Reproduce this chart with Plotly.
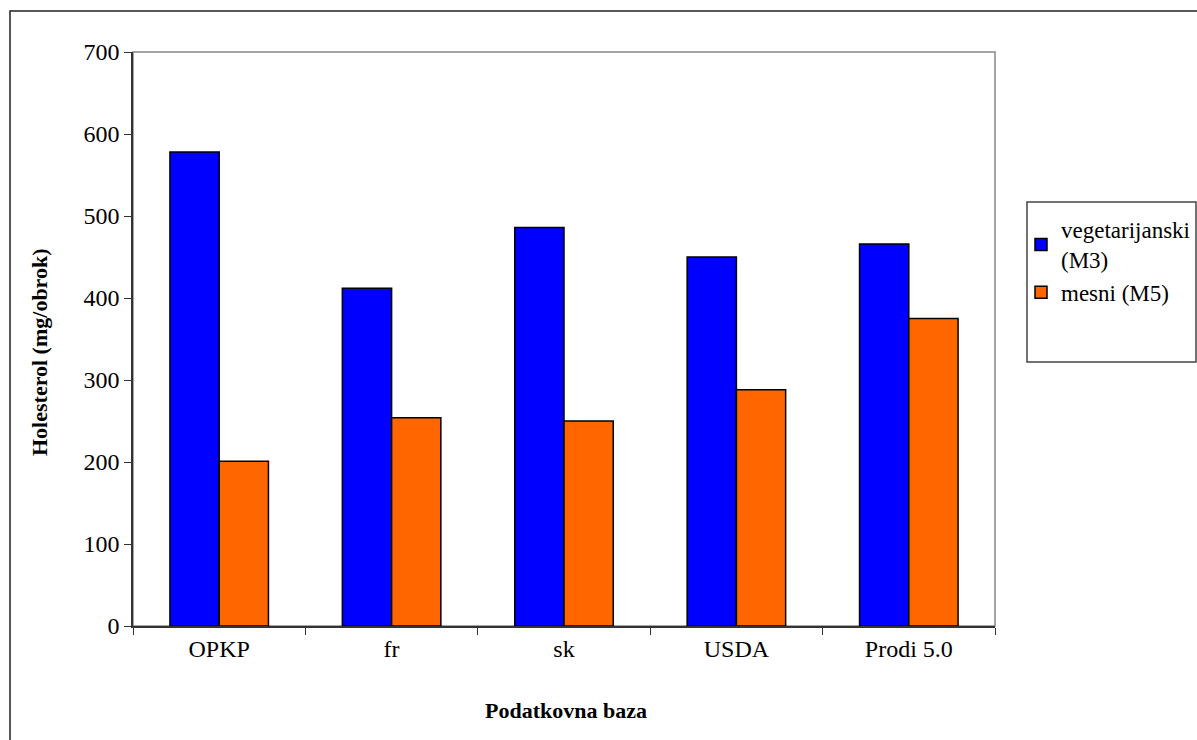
import plotly.graph_objects as go

categories = ["OPKP", "fr", "sk", "USDA", "Prodi 5.0"]
veg_m3 = [578, 412, 486, 450, 466]
mesni_m5 = [201, 254, 250, 288, 375]
series_names = ["vegetarijanski<br>(M3)", "mesni (M5)"]
y_ticks = [0, 100, 200, 300, 400, 500, 600, 700]

FONT = "Liberation Serif, Times New Roman, serif"

W, H = 1197, 740
# plot-area edges in page pixels
L, R, T, B = 133, 995, 52, 626

def px_x(x):
    return (x - L) / (R - L)

def px_y(y):
    return (B - y) / (B - T)

fig = go.Figure()
fig.add_trace(go.Bar(x=categories, y=veg_m3, name=series_names[0],
                     marker=dict(color="#0000FF", line=dict(color="black", width=1.5))))
fig.add_trace(go.Bar(x=categories, y=mesni_m5, name=series_names[1],
                     marker=dict(color="#FF6600", line=dict(color="black", width=1.5))))

fig.update_layout(
    width=W, height=H,
    margin=dict(l=L, r=W - R, t=T, b=H - B, pad=0, autoexpand=False),
    paper_bgcolor="white", plot_bgcolor="white",
    barmode="group", bargap=1.5 / 3.5, bargroupgap=0,
    font=dict(family=FONT, size=24, color="black"),
    showlegend=True,
    legend=dict(x=px_x(1021), y=px_y(208), xanchor="left", yanchor="top",
                bgcolor="rgba(0,0,0,0)", borderwidth=0,
                font=dict(family=FONT, size=23), tracegroupgap=24,
                itemwidth=30),
    xaxis=dict(showgrid=False, showline=True, linecolor="#333333", linewidth=1.5,
               ticks="outside", ticklen=7, tickcolor="#333333", tickson="boundaries",
               tickfont=dict(size=24)),
    yaxis=dict(range=[0, 700], tickvals=y_ticks, showgrid=False, showline=True,
               linecolor="#333333", linewidth=1.5, ticks="outside", ticklen=7,
               tickcolor="#333333", tickfont=dict(size=24), zeroline=False),
    annotations=[
        dict(text="<b>Podatkovna baza</b>", xref="paper", yref="paper",
             x=px_x(566), y=px_y(710), xanchor="center", yanchor="middle",
             showarrow=False, font=dict(size=22)),
        dict(text="<b>Holesterol (mg/obrok)</b>", xref="paper", yref="paper",
             x=px_x(40), y=px_y(352), xanchor="center", yanchor="middle",
             textangle=-90, showarrow=False, font=dict(size=22)),
    ],
    shapes=[
        # plot area border (top/right gray)
        dict(type="rect", xref="paper", yref="paper", x0=0, x1=1, y0=0, y1=1,
             line=dict(color="#888888", width=1.5), layer="below"),
        # outer chart border
        dict(type="rect", xref="paper", yref="paper", x0=px_x(10), x1=px_x(1210),
             y0=px_y(760), y1=px_y(11), line=dict(color="#222222", width=1.5)),
        # legend box
        dict(type="rect", xref="paper", yref="paper", x0=px_x(1027), x1=px_x(1196),
             y0=px_y(362), y1=px_y(202), line=dict(color="#444444", width=1.5)),
    ],
)

fig.write_html(
    "out.html",
    config={"displayModeBar": False},
    post_script="document.body.style.margin='0';document.body.style.overflow='hidden';",
)
